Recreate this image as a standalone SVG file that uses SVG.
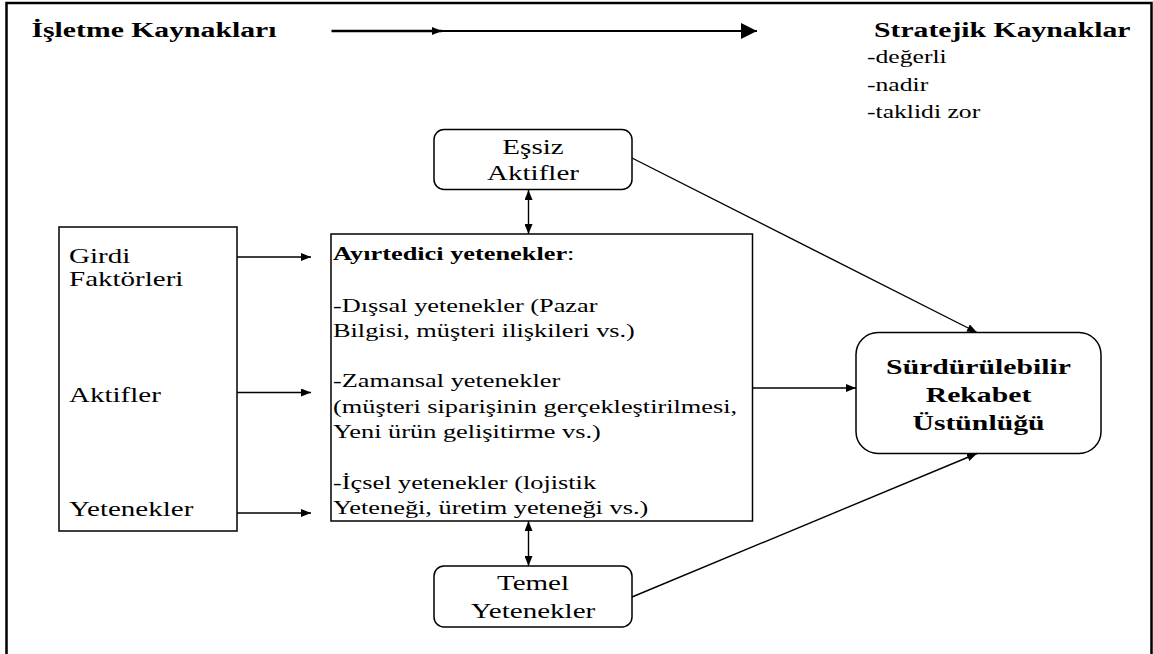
<svg xmlns="http://www.w3.org/2000/svg" width="1153" height="654" viewBox="0 0 1153 654">
  <style>
    text { font-family: "Liberation Serif", "Times New Roman", serif; fill: #000; }
    .b { font-weight: bold; }
    .hd { font-size: 22px; }
    .lst { font-size: 19px; }
    .mn { font-size: 19.5px; }
    .nd { font-size: 21.5px; }
    .box { fill: #fff; stroke: #000; stroke-width: 1.5; }
    .con { fill: none; stroke: #000; stroke-width: 1.4; }
  </style>
  <defs>
    <marker id="ah" markerUnits="userSpaceOnUse" markerWidth="10" markerHeight="8" refX="10" refY="4" orient="auto-start-reverse">
      <path d="M0,0 L10,4 L0,8 z" fill="#000"/>
    </marker>
    <marker id="ahBig" markerUnits="userSpaceOnUse" markerWidth="16" markerHeight="16" refX="16" refY="8" orient="auto">
      <path d="M0,0 L16,8 L0,16 z" fill="#000"/>
    </marker>
  </defs>

  <!-- outer frame -->
  <rect x="6.5" y="3" width="1145" height="670" fill="#fff" stroke="#000" stroke-width="2.5"/>

  <!-- headers -->
  <g id="header-left">
    <text class="b hd" transform="translate(31.5 37) scale(1.35 1)">İşletme Kaynakları</text>
  </g>
  <g id="header-right">
    <text class="b hd" transform="translate(874 37) scale(1.35 1)">Stratejik Kaynaklar</text>
    <text class="lst" transform="translate(867 63) scale(1.35 1)">-değerli</text>
    <text class="lst" transform="translate(867 90.5) scale(1.35 1)">-nadir</text>
    <text class="lst" transform="translate(867 118) scale(1.35 1)">-taklidi zor</text>
  </g>

  <!-- nodes -->
  <g id="node-essiz">
    <rect class="box" x="434" y="129.5" width="198" height="60" rx="10"/>
    <text class="nd" text-anchor="middle" transform="translate(533 153.5) scale(1.35 1)">Eşsiz</text>
    <text class="nd" text-anchor="middle" transform="translate(533 180) scale(1.35 1)">Aktifler</text>
  </g>

  <g id="node-girdi">
    <rect class="box" x="59" y="227" width="178" height="304"/>
    <text class="nd" transform="translate(69 262.5) scale(1.35 1)">Girdi</text>
    <text class="nd" transform="translate(69 286) scale(1.35 1)">Faktörleri</text>
    <text class="nd" transform="translate(69 401.5) scale(1.35 1)">Aktifler</text>
    <text class="nd" transform="translate(69 516) scale(1.35 1)">Yetenekler</text>
  </g>

  <g id="node-ayirtedici">
    <rect class="box" x="331" y="234" width="421.5" height="287"/>
    <text class="mn" transform="translate(333 259.5) scale(1.35 1)"><tspan class="b">Ayırtedici yetenekler</tspan>:</text>
    <text class="mn" transform="translate(333 311.5) scale(1.35 1)">-Dışsal yetenekler (Pazar</text>
    <text class="mn" transform="translate(333 337) scale(1.35 1)">Bilgisi, müşteri ilişkileri vs.)</text>
    <text class="mn" transform="translate(333 387) scale(1.35 1)">-Zamansal yetenekler</text>
    <text class="mn" transform="translate(333 412.5) scale(1.35 1)">(müşteri siparişinin gerçekleştirilmesi,</text>
    <text class="mn" transform="translate(333 438) scale(1.35 1)">Yeni ürün gelişitirme vs.)</text>
    <text class="mn" transform="translate(333 488.5) scale(1.35 1)">-İçsel yetenekler (lojistik</text>
    <text class="mn" transform="translate(333 513.5) scale(1.35 1)">Yeteneği, üretim yeteneği vs.)</text>
  </g>

  <g id="node-temel">
    <rect class="box" x="434" y="566" width="198" height="61" rx="10"/>
    <text class="nd" text-anchor="middle" transform="translate(533 590) scale(1.35 1)">Temel</text>
    <text class="nd" text-anchor="middle" transform="translate(533 618) scale(1.35 1)">Yetenekler</text>
  </g>

  <g id="node-surdurulebilir">
    <rect class="box" x="856" y="332.5" width="245" height="121" rx="22"/>
    <text class="b hd" text-anchor="middle" transform="translate(978.5 373.5) scale(1.35 1)">Sürdürülebilir</text>
    <text class="b hd" text-anchor="middle" transform="translate(978.5 401.5) scale(1.35 1)">Rekabet</text>
    <text class="b hd" text-anchor="middle" transform="translate(978.5 429.5) scale(1.35 1)">Üstünlüğü</text>
  </g>

  <!-- connectors -->
  <g id="connectors">
    <!-- resource scale arrow -->
    <line x1="331.5" y1="31" x2="442" y2="31" stroke="#000" stroke-width="2.7" marker-end="url(#ah)"/>
    <line x1="440" y1="31" x2="757" y2="31" stroke="#000" stroke-width="2" marker-end="url(#ahBig)"/>

    <line class="con" x1="237" y1="257" x2="311" y2="257" marker-end="url(#ah)"/>
    <line class="con" x1="237" y1="392.5" x2="311" y2="392.5" marker-end="url(#ah)"/>
    <line class="con" x1="237" y1="513" x2="311" y2="513" marker-end="url(#ah)"/>

    <line class="con" x1="528.5" y1="190" x2="528.5" y2="234" marker-start="url(#ah)" marker-end="url(#ah)"/>
    <line class="con" x1="528.5" y1="521" x2="528.5" y2="566" marker-start="url(#ah)" marker-end="url(#ah)"/>

    <line class="con" x1="752.5" y1="388" x2="856" y2="388" marker-end="url(#ah)"/>
    <line class="con" x1="632" y1="158" x2="977" y2="332.5" marker-end="url(#ah)"/>
    <line class="con" x1="632" y1="597" x2="977" y2="453.5" marker-end="url(#ah)"/>
  </g>
</svg>
